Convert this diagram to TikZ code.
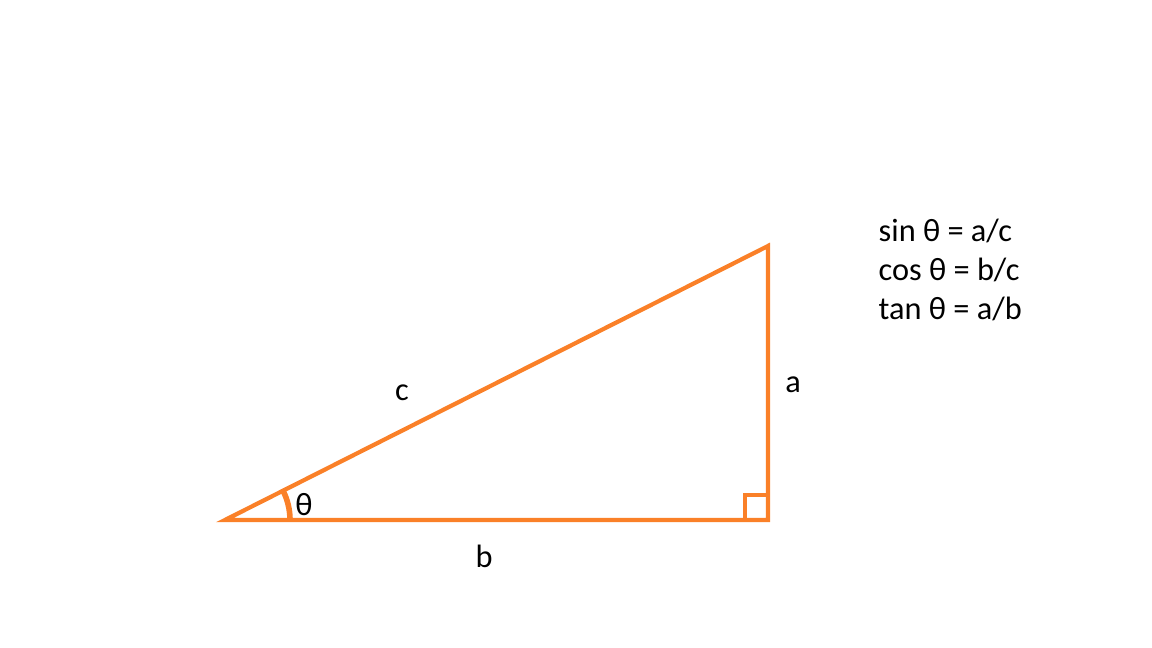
\documentclass[tikz,border=0pt]{standalone}
\usepackage{fontspec}
\setmainfont{Carlito}
\usepackage{tikz}
\usetikzlibrary{calc}

\definecolor{paintorange}{RGB}{250,128,40}

\begin{document}
\begin{tikzpicture}[side/.style={paintorange,line width=1.2pt},
  lbl/.style={font=\fontsize{9.2}{11}\selectfont,inner sep=0pt},
  formula/.style={lbl,anchor=west}]
  \useasboundingbox (0,0) rectangle (11.52,6.48);
  % Vertices of the right triangle
  \coordinate (A) at (2.25,1.28);
  \coordinate (B) at (7.68,1.28);
  \coordinate (C) at (7.68,4.02);
  % Sides
  \draw[side,line join=miter] (A) -- (B) -- (C) -- cycle;
  % Right angle mark at B
  \draw[side] ($(B)+(-0.23,0)$) -- ++(0,0.25) -- ++(0.23,0);
  % Angle arc at A
  \draw[side,line width=1.6pt] ($(A)+(0.65,0)$) arc[start angle=0,end angle=26.8,radius=0.65];
  % Labels of angle and sides
  \node[lbl] (theta) at (3.04,1.43) {θ};
  \node[lbl] (c) at (4.02,2.55) {c};
  \node[lbl] (a) at (7.93,2.63) {a};
  \node[lbl] (b) at (4.84,0.92) {b};
  % Ratios
  \node[formula] (sin) at (8.78,4.17) {sin θ = a/c};
  \node[formula] (cos) at (8.78,3.78) {cos θ = b/c};
  \node[formula] (tan) at (8.78,3.39) {tan θ = a/b};
\end{tikzpicture}
\end{document}
